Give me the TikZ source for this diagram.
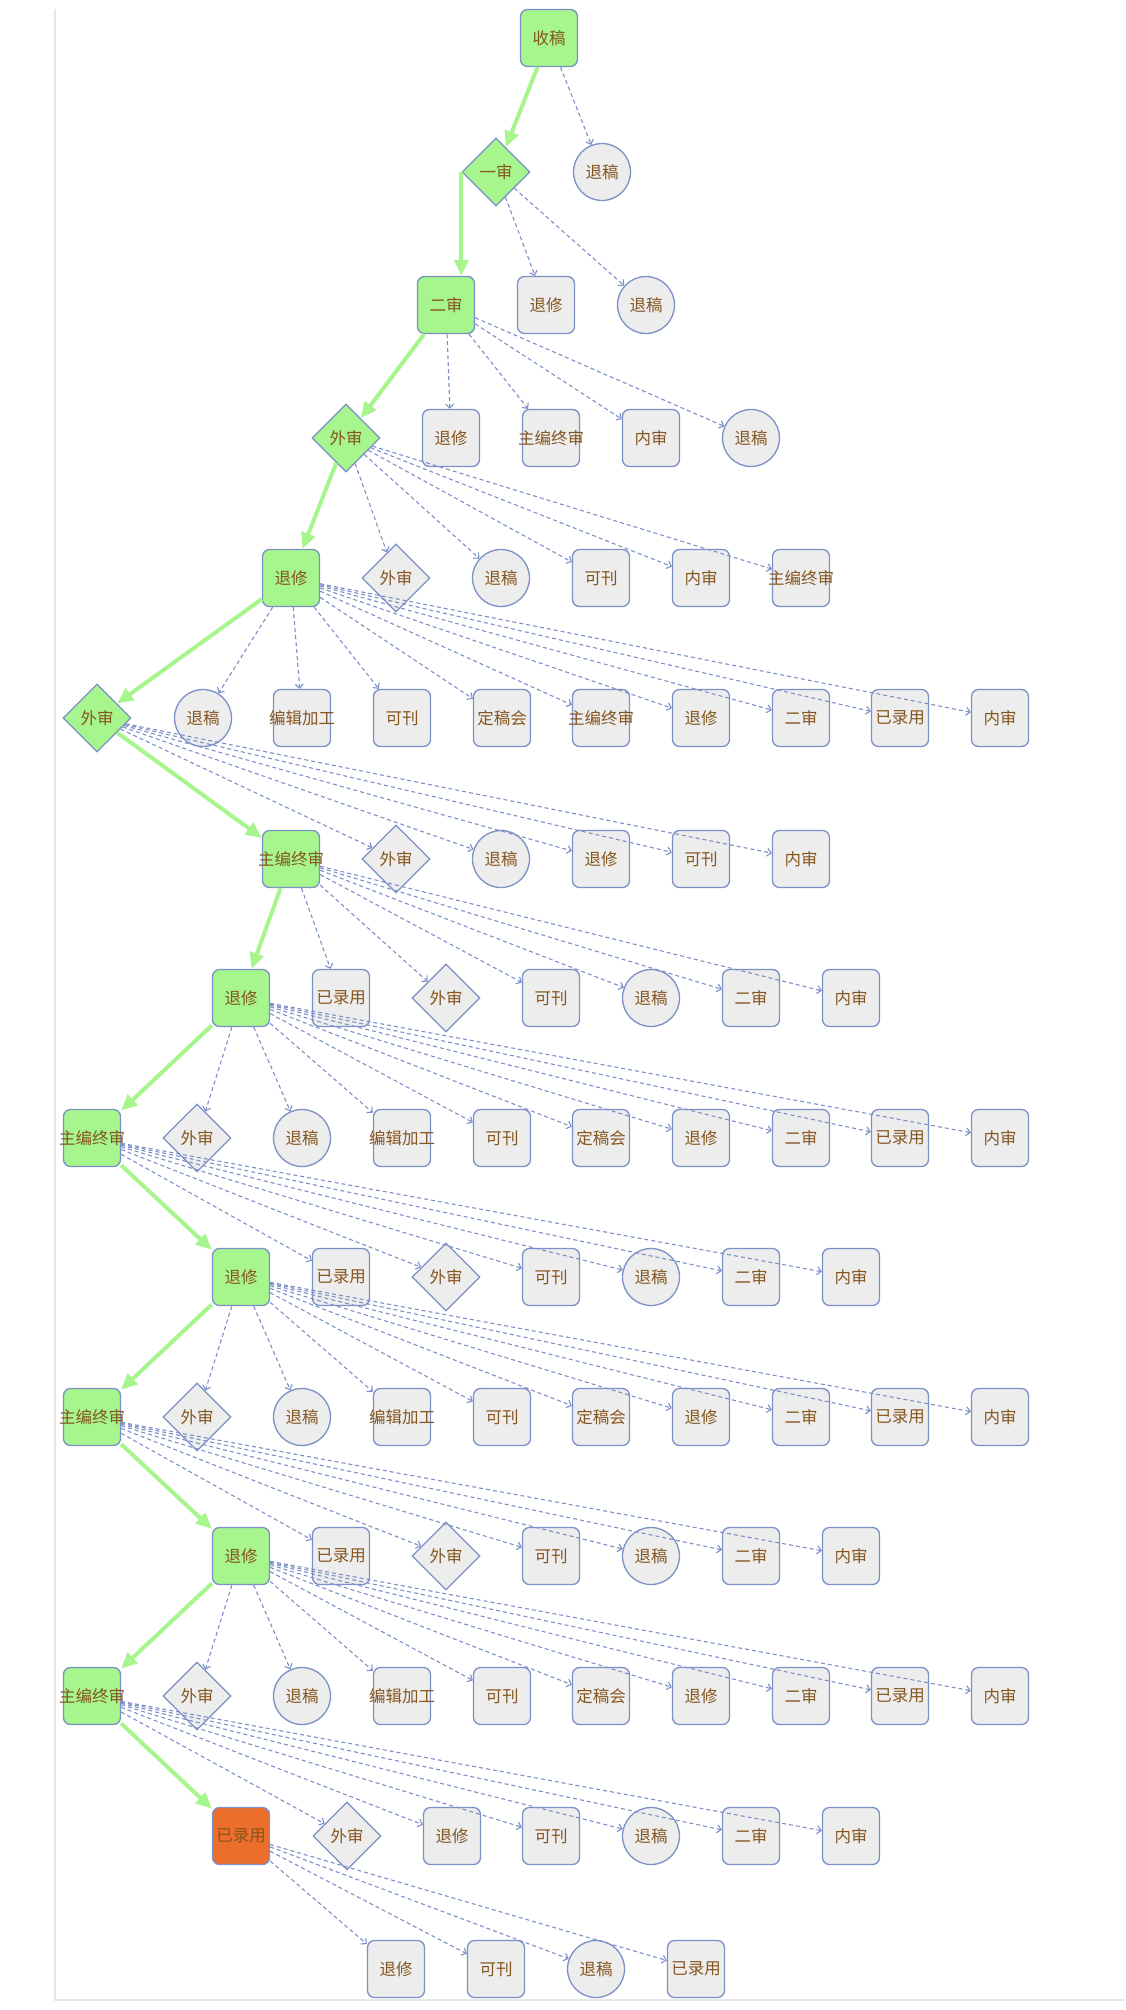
\documentclass[tikz,border=0pt]{standalone}
\usepackage{fontspec}
\setmainfont{Noto Sans CJK SC}
\usetikzlibrary{shapes.geometric,arrows.meta}
\definecolor{passgreen}{HTML}{A6F58D}
\definecolor{doneorange}{HTML}{EC6E2B}
\definecolor{nodegrey}{HTML}{EDEDED}
\definecolor{nodeblue}{HTML}{7C90C8}
\definecolor{labelbrown}{HTML}{85561F}
\definecolor{framegrey}{HTML}{E6E6E6}
\newcommand{\widelabel}[1]{\makebox[0pt]{#1}}

\begin{document}
\begin{tikzpicture}
  [x=1pt,y=-1pt,
   every node/.style={draw=nodeblue,line width=1.3pt,fill=nodegrey,text=labelbrown,
     font=\fontsize{16.5}{18}\selectfont,inner sep=0pt},
   card/.style={rectangle,rounded corners=7pt,minimum size=57pt},
   stamp/.style={circle,minimum size=57pt},
   gate/.style={diamond,aspect=1,minimum size=68pt},
   pass/.style={fill=passgreen},
   accepted/.style={fill=doneorange},
   mainedge/.style={draw=passgreen,line width=4pt,-{Triangle[length=16pt,width=14pt]}},
   sideedge/.style={draw=nodeblue,line width=1.1pt,dash pattern=on 4pt off 3pt,
     -{Straight Barb[length=4pt,width=8pt]}}]
  \useasboundingbox (0,0) rectangle (1125,2010);
  \draw[framegrey,line width=1.5pt] (55,9) -- (55,2000) -- (1125,2000);

  % row 1-4
  \node[card,pass] (r1a) at (549,38) {收稿};

  \node[gate,pass] (r2a) at (496,172) {一审};
  \node[stamp] (r2b) at (602,172) {退稿};

  \node[card,pass] (r3a) at (446,305) {二审};
  \node[card] (r3b) at (546,305) {退修};
  \node[stamp] (r3c) at (646,305) {退稿};

  \node[gate,pass] (r4a) at (346,438) {外审};
  \node[card] (r4b) at (451,438) {退修};
  \node[card] (r4c) at (551,438) {\widelabel{主编终审}};
  \node[card] (r4d) at (651,438) {内审};
  \node[stamp] (r4e) at (751,438) {退稿};

  % row 5-7
  \node[card,pass] (r5a) at (291,578) {退修};
  \node[gate] (r5b) at (396,578) {外审};
  \node[stamp] (r5c) at (501,578) {退稿};
  \node[card] (r5d) at (601,578) {可刊};
  \node[card] (r5e) at (701,578) {内审};
  \node[card] (r5f) at (801,578) {\widelabel{主编终审}};

  \node[gate,pass] (r6a) at (97,718) {外审};
  \node[stamp] (r6b) at (203,718) {退稿};
  \node[card] (r6c) at (302,718) {\widelabel{编辑加工}};
  \node[card] (r6d) at (402,718) {可刊};
  \node[card] (r6e) at (502,718) {定稿会};
  \node[card] (r6f) at (601,718) {\widelabel{主编终审}};
  \node[card] (r6g) at (701,718) {退修};
  \node[card] (r6h) at (801,718) {二审};
  \node[card] (r6i) at (900,718) {已录用};
  \node[card] (r6j) at (1000,718) {内审};

  \node[card,pass] (r7a) at (291,859) {\widelabel{主编终审}};
  \node[gate] (r7b) at (396,859) {外审};
  \node[stamp] (r7c) at (501,859) {退稿};
  \node[card] (r7d) at (601,859) {退修};
  \node[card] (r7e) at (701,859) {可刊};
  \node[card] (r7f) at (801,859) {内审};

  % row 8-9
  \node[card,pass] (r8a) at (241,998) {退修};
  \node[card] (r8b) at (341,998) {已录用};
  \node[gate] (r8c) at (446,998) {外审};
  \node[card] (r8d) at (551,998) {可刊};
  \node[stamp] (r8e) at (651,998) {退稿};
  \node[card] (r8f) at (751,998) {二审};
  \node[card] (r8g) at (851,998) {内审};

  \node[card,pass] (r9a) at (92,1138) {\widelabel{主编终审}};
  \node[gate] (r9b) at (197,1138) {外审};
  \node[stamp] (r9c) at (302,1138) {退稿};
  \node[card] (r9d) at (402,1138) {\widelabel{编辑加工}};
  \node[card] (r9e) at (502,1138) {可刊};
  \node[card] (r9f) at (601,1138) {定稿会};
  \node[card] (r9g) at (701,1138) {退修};
  \node[card] (r9h) at (801,1138) {二审};
  \node[card] (r9i) at (900,1138) {已录用};
  \node[card] (r9j) at (1000,1138) {内审};

  % row 10-11
  \node[card,pass] (r10a) at (241,1277) {退修};
  \node[card] (r10b) at (341,1277) {已录用};
  \node[gate] (r10c) at (446,1277) {外审};
  \node[card] (r10d) at (551,1277) {可刊};
  \node[stamp] (r10e) at (651,1277) {退稿};
  \node[card] (r10f) at (751,1277) {二审};
  \node[card] (r10g) at (851,1277) {内审};

  \node[card,pass] (r11a) at (92,1417) {\widelabel{主编终审}};
  \node[gate] (r11b) at (197,1417) {外审};
  \node[stamp] (r11c) at (302,1417) {退稿};
  \node[card] (r11d) at (402,1417) {\widelabel{编辑加工}};
  \node[card] (r11e) at (502,1417) {可刊};
  \node[card] (r11f) at (601,1417) {定稿会};
  \node[card] (r11g) at (701,1417) {退修};
  \node[card] (r11h) at (801,1417) {二审};
  \node[card] (r11i) at (900,1417) {已录用};
  \node[card] (r11j) at (1000,1417) {内审};

  % row 12-13
  \node[card,pass] (r12a) at (241,1556) {退修};
  \node[card] (r12b) at (341,1556) {已录用};
  \node[gate] (r12c) at (446,1556) {外审};
  \node[card] (r12d) at (551,1556) {可刊};
  \node[stamp] (r12e) at (651,1556) {退稿};
  \node[card] (r12f) at (751,1556) {二审};
  \node[card] (r12g) at (851,1556) {内审};

  \node[card,pass] (r13a) at (92,1696) {\widelabel{主编终审}};
  \node[gate] (r13b) at (197,1696) {外审};
  \node[stamp] (r13c) at (302,1696) {退稿};
  \node[card] (r13d) at (402,1696) {\widelabel{编辑加工}};
  \node[card] (r13e) at (502,1696) {可刊};
  \node[card] (r13f) at (601,1696) {定稿会};
  \node[card] (r13g) at (701,1696) {退修};
  \node[card] (r13h) at (801,1696) {二审};
  \node[card] (r13i) at (900,1696) {已录用};
  \node[card] (r13j) at (1000,1696) {内审};

  % row 14-15
  \node[card,accepted] (r14a) at (241,1836) {已录用};
  \node[gate] (r14b) at (347,1836) {外审};
  \node[card] (r14c) at (452,1836) {退修};
  \node[card] (r14d) at (551,1836) {可刊};
  \node[stamp] (r14e) at (651,1836) {退稿};
  \node[card] (r14f) at (751,1836) {二审};
  \node[card] (r14g) at (851,1836) {内审};

  \node[card] (r15a) at (396,1969) {退修};
  \node[card] (r15b) at (496,1969) {可刊};
  \node[stamp] (r15c) at (596,1969) {退稿};
  \node[card] (r15d) at (696,1969) {已录用};

\path
    (r1a) edge [mainedge] (r2a)
    (r1a) edge [sideedge] (r2b)
    (r2a.west) edge [mainedge] (r2a.west |- r3a.north)
    (r2a) edge [sideedge] (r3b)
    (r2a) edge [sideedge] (r3c)
    (r3a) edge [mainedge] (r4a)
    (r3a) edge [sideedge] (r4b)
    (r3a) edge [sideedge] (r4c)
    (r3a) edge [sideedge] (r4d)
    (r3a) edge [sideedge] (r4e)
    (r4a) edge [mainedge] (r5a)
    (r4a) edge [sideedge] (r5b)
    (r4a) edge [sideedge] (r5c)
    (r4a) edge [sideedge] (r5d)
    (r4a) edge [sideedge] (r5e)
    (r4a) edge [sideedge] (r5f)
    (r5a) edge [mainedge] (r6a)
    (r5a) edge [sideedge] (r6b)
    (r5a) edge [sideedge] (r6c)
    (r5a) edge [sideedge] (r6d)
    (r5a) edge [sideedge] (r6e)
    (r5a) edge [sideedge] (r6f)
    (r5a) edge [sideedge] (r6g)
    (r5a) edge [sideedge] (r6h)
    (r5a) edge [sideedge] (r6i)
    (r5a) edge [sideedge] (r6j)
    (r6a) edge [mainedge] (r7a)
    (r6a) edge [sideedge] (r7b)
    (r6a) edge [sideedge] (r7c)
    (r6a) edge [sideedge] (r7d)
    (r6a) edge [sideedge] (r7e)
    (r6a) edge [sideedge] (r7f)
    (r7a) edge [mainedge] (r8a)
    (r7a) edge [sideedge] (r8b)
    (r7a) edge [sideedge] (r8c)
    (r7a) edge [sideedge] (r8d)
    (r7a) edge [sideedge] (r8e)
    (r7a) edge [sideedge] (r8f)
    (r7a) edge [sideedge] (r8g)
    (r8a) edge [mainedge] (r9a)
    (r8a) edge [sideedge] (r9b)
    (r8a) edge [sideedge] (r9c)
    (r8a) edge [sideedge] (r9d)
    (r8a) edge [sideedge] (r9e)
    (r8a) edge [sideedge] (r9f)
    (r8a) edge [sideedge] (r9g)
    (r8a) edge [sideedge] (r9h)
    (r8a) edge [sideedge] (r9i)
    (r8a) edge [sideedge] (r9j)
    (r9a) edge [mainedge] (r10a)
    (r9a) edge [sideedge] (r10b)
    (r9a) edge [sideedge] (r10c)
    (r9a) edge [sideedge] (r10d)
    (r9a) edge [sideedge] (r10e)
    (r9a) edge [sideedge] (r10f)
    (r9a) edge [sideedge] (r10g)
    (r10a) edge [mainedge] (r11a)
    (r10a) edge [sideedge] (r11b)
    (r10a) edge [sideedge] (r11c)
    (r10a) edge [sideedge] (r11d)
    (r10a) edge [sideedge] (r11e)
    (r10a) edge [sideedge] (r11f)
    (r10a) edge [sideedge] (r11g)
    (r10a) edge [sideedge] (r11h)
    (r10a) edge [sideedge] (r11i)
    (r10a) edge [sideedge] (r11j)
    (r11a) edge [mainedge] (r12a)
    (r11a) edge [sideedge] (r12b)
    (r11a) edge [sideedge] (r12c)
    (r11a) edge [sideedge] (r12d)
    (r11a) edge [sideedge] (r12e)
    (r11a) edge [sideedge] (r12f)
    (r11a) edge [sideedge] (r12g)
    (r12a) edge [mainedge] (r13a)
    (r12a) edge [sideedge] (r13b)
    (r12a) edge [sideedge] (r13c)
    (r12a) edge [sideedge] (r13d)
    (r12a) edge [sideedge] (r13e)
    (r12a) edge [sideedge] (r13f)
    (r12a) edge [sideedge] (r13g)
    (r12a) edge [sideedge] (r13h)
    (r12a) edge [sideedge] (r13i)
    (r12a) edge [sideedge] (r13j)
    (r13a) edge [mainedge] (r14a)
    (r13a) edge [sideedge] (r14b)
    (r13a) edge [sideedge] (r14c)
    (r13a) edge [sideedge] (r14d)
    (r13a) edge [sideedge] (r14e)
    (r13a) edge [sideedge] (r14f)
    (r13a) edge [sideedge] (r14g)
    (r14a) edge [sideedge] (r15a)
    (r14a) edge [sideedge] (r15b)
    (r14a) edge [sideedge] (r15c)
    (r14a) edge [sideedge] (r15d)
    ;

\end{tikzpicture}
\end{document}
